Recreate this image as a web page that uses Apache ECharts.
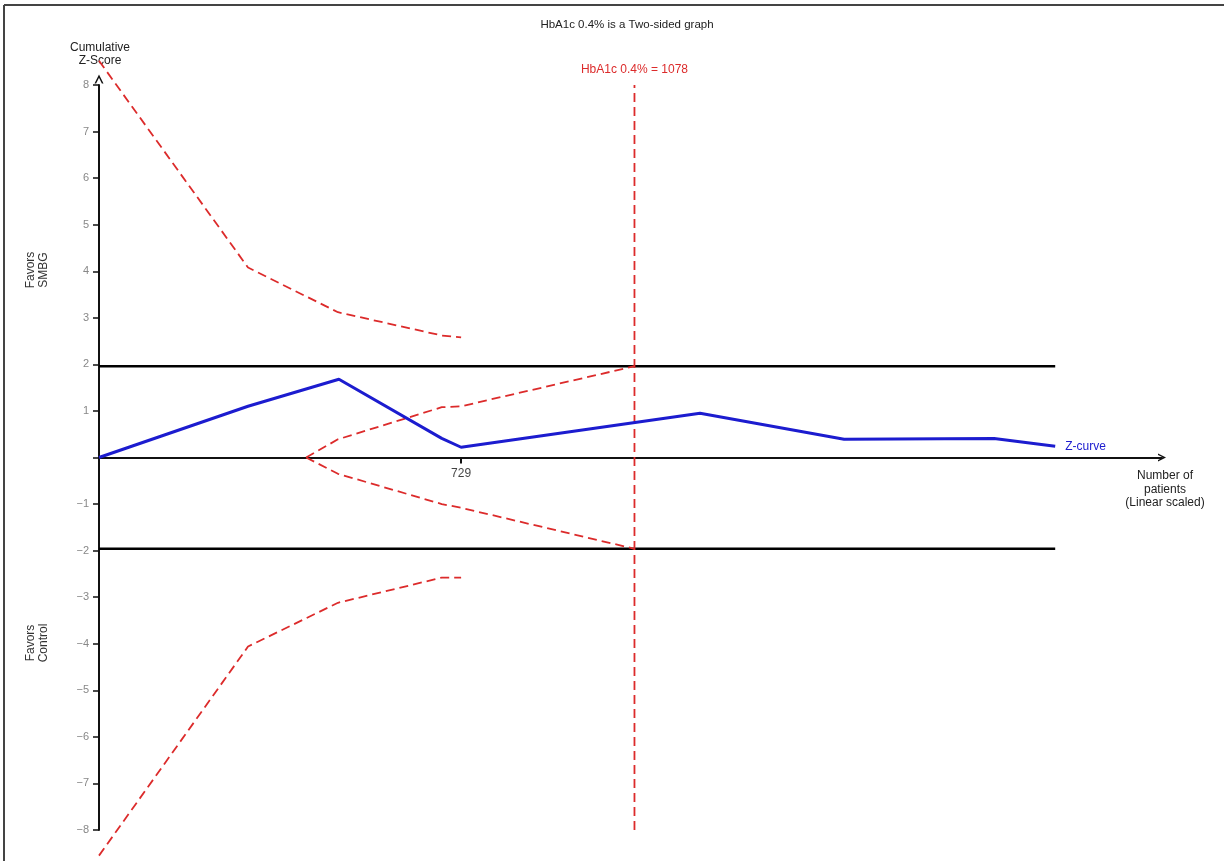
<!DOCTYPE html>
<html>
<head>
<meta charset="utf-8">
<script src="https://cdn.jsdelivr.net/npm/echarts@6/dist/echarts.min.js"></script>
<style>
html,body{margin:0;padding:0;background:#fff;}
#chart{width:1224px;height:861px;}
</style>
</head>
<body>
<div id="chart"></div>
<script>
// ---- Data ----
const zPatients = [0, 300, 483, 690, 729, 1210, 1500, 1802, 1925];
const zValues   = [0, 1.10, 1.68, 0.41, 0.22, 0.95, 0.39, 0.41, 0.24];

const outerPatients = [0, 300, 481, 690, 729];
const upperOuter    = [8.52, 4.08, 3.12, 2.62, 2.58];
const lowerOuter    = [-8.55, -4.06, -3.12, -2.58, -2.58];

const innerPatients = [417, 481, 690, 729, 1078];
const upperInner    = [0, 0.39, 1.08, 1.10, 1.96];
const lowerInner    = [0, -0.35, -1.00, -1.08, -1.96];

const sigPatients = [0, 1925];
const sigLevel = 1.96;

const requiredSize = 1078;
const requiredRange = [-8, 8];

const xTickValues = [729];
const yMin = -8, yMax = 8, yStep = 1;
const xMin = 0, xMax = 2140;

const titleText = 'HbA1c 0.4% is a Two-sided graph';
const requiredLabel = 'HbA1c 0.4% = ' + requiredSize;

// ---- Build ----
const pairs = (xs, ys) => xs.map((x, i) => [x, ys[i]]);
const RED = '#dc2b2b';
const BLUE = '#1c1ccf';
const FONT = 'Liberation Sans, Arial, sans-serif';
const CHEVRON = 'path://M0,10 L5,0 L10,10 L8.2,10 L5,3.6 L1.8,10 Z';

const chart = echarts.init(document.getElementById('chart'), null, {renderer: 'canvas'});

const redDash = {color: RED, width: 1.8, type: [9, 5]};

const option = {
  backgroundColor: '#fff',
  animation: false,
  textStyle: {fontFamily: FONT},
  grid: {left: 99, right: 62, top: 85, bottom: 31, containLabel: false},
  xAxis: {
    type: 'value', min: xMin, max: xMax,
    axisLine: {show: true, onZero: true,
      lineStyle: {color: '#111', width: 2},
      symbol: ['none', CHEVRON],
      symbolSize: [13, 8]},
    axisTick: {show: true, customValues: xTickValues, length: 6, lineStyle: {color: '#111', width: 2}},
    axisLabel: {show: false},
    splitLine: {show: false}
  },
  yAxis: {
    type: 'value', min: yMin, max: yMax, interval: yStep,
    axisLine: {show: true, onZero: false,
      lineStyle: {color: '#111', width: 2},
      symbol: ['none', CHEVRON],
      symbolSize: [13, 9], symbolOffset: [0, 6]},
    axisTick: {show: true, length: 6, lineStyle: {color: '#111', width: 1.5}},
    axisLabel: {color: '#888', fontSize: 11, margin: 10,
      formatter: v => v === 0 ? '' : (v < 0 ? '\u2212' + (-v) : String(v))},
    splitLine: {show: false}
  },
  series: [
    {name: 'upperSig', type: 'line', data: sigPatients.map(x => [x, sigLevel]),
     symbol: 'none', lineStyle: {color: '#000', width: 2.5}, z: 2},
    {name: 'lowerSig', type: 'line', data: sigPatients.map(x => [x, -sigLevel]),
     symbol: 'none', lineStyle: {color: '#000', width: 2.5}, z: 2},
    {name: 'upperOuter', type: 'line', data: pairs(outerPatients, upperOuter),
     symbol: 'none', clip: false, lineStyle: redDash, z: 3},
    {name: 'lowerOuter', type: 'line', data: pairs(outerPatients, lowerOuter),
     symbol: 'none', clip: false, lineStyle: redDash, z: 3},
    {name: 'upperInner', type: 'line', data: pairs(innerPatients, upperInner),
     symbol: 'none', clip: false, lineStyle: redDash, z: 3},
    {name: 'lowerInner', type: 'line', data: pairs(innerPatients, lowerInner),
     symbol: 'none', clip: false, lineStyle: redDash, z: 3},
    {name: 'required', type: 'line',
     data: [
       [requiredSize, requiredRange[0]],
       {value: [requiredSize, requiredRange[1]],
        label: {show: true, position: 'top', distance: 9, formatter: requiredLabel,
                color: RED, fontSize: 12, fontFamily: FONT}}
     ],
     showSymbol: true, symbol: 'circle', symbolSize: 0.01,
     itemStyle: {color: RED},
     lineStyle: {color: RED, width: 1.8, type: [9, 5]}, z: 3},
    {name: 'xTickLabels', type: 'scatter', data: xTickValues.map(v => [v, 0]),
     symbolSize: 0.01, itemStyle: {color: '#111'}, silent: true,
     label: {show: true, position: 'bottom', distance: 10, formatter: p => String(p.value[0]),
             color: '#111', fontSize: 12, fontFamily: FONT}, z: 6},
    {name: 'Z-curve', type: 'line', data: pairs(zPatients, zValues),
     symbol: 'none', lineStyle: {color: BLUE, width: 3}, z: 5,
     endLabel: {show: true, formatter: 'Z-curve', color: BLUE, fontSize: 12,
                distance: 10, fontFamily: FONT}}
  ],
  graphic: [
    {type: 'line', shape: {x1: 4, y1: 5, x2: 1224, y2: 5}, style: {stroke: '#444', lineWidth: 2}, silent: true},
    {type: 'line', shape: {x1: 4, y1: 5, x2: 4, y2: 861}, style: {stroke: '#444', lineWidth: 2}, silent: true},
    {type: 'text', x: 627, y: 25, style: {text: titleText, textAlign: 'center', textVerticalAlign: 'middle',
      fontSize: 11.5, fill: '#222', fontFamily: FONT}},
    {type: 'text', x: 100, y: 41, style: {text: 'Cumulative\nZ-Score', textAlign: 'center', textVerticalAlign: 'top',
      fontSize: 12, lineHeight: 13, fill: '#222', fontFamily: FONT}},
    {type: 'text', x: 37, y: 270, rotation: Math.PI / 2,
     style: {text: 'Favors\nSMBG', textAlign: 'center', textVerticalAlign: 'middle',
      fontSize: 12, lineHeight: 13, fill: '#333', fontFamily: FONT}},
    {type: 'text', x: 37, y: 643, rotation: Math.PI / 2,
     style: {text: 'Favors\nControl', textAlign: 'center', textVerticalAlign: 'middle',
      fontSize: 12, lineHeight: 13, fill: '#333', fontFamily: FONT}},
    {type: 'text', x: 1165, y: 469, style: {text: 'Number of\npatients\n(Linear scaled)', textAlign: 'center',
      textVerticalAlign: 'top', fontSize: 12, lineHeight: 13.5, fill: '#222', fontFamily: FONT}}
  ]
};
chart.setOption(option);
</script>
</body>
</html>
